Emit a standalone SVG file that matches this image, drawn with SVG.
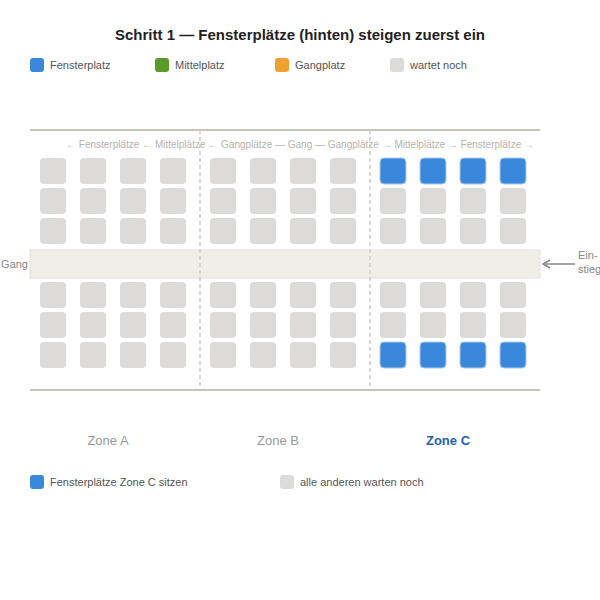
<svg xmlns="http://www.w3.org/2000/svg" width="600" height="600" viewBox="0 0 600 600">
<style>
text{font-family:"Liberation Sans",Arial,sans-serif}
.title{font-size:15px;font-weight:bold;fill:#222}
.leg{font-size:11px;fill:#555}
.hdr{font-size:10px;fill:#b8b4ac}
.side{font-size:11px;fill:#888}
.zone{font-size:13px;fill:#999}
.zoneon{font-size:13px;fill:#1e62b4;font-weight:bold}
.s{fill:#dcdbd9}
.w{fill:#3a88dc;stroke:#a9c9ee;stroke-width:1}
</style>
<defs>
<marker id="ah" markerWidth="10" markerHeight="10" refX="8" refY="5" orient="auto" markerUnits="userSpaceOnUse">
<path d="M1,1 L8,5 L1,9" fill="none" stroke="#888" stroke-width="1.5"/>
</marker>
</defs>
<rect width="600" height="600" fill="#fff"/>
<text class="title" x="300" y="40" text-anchor="middle">Schritt 1 — Fensterplätze (hinten) steigen zuerst ein</text>
<g id="legend">
<rect x="30" y="58" width="14" height="14" rx="3" fill="#3a88dc"/><text class="leg" x="50" y="69">Fensterplatz</text>
<rect x="155" y="58" width="14" height="14" rx="3" fill="#5a9a28"/><text class="leg" x="175" y="69">Mittelplatz</text>
<rect x="275" y="58" width="14" height="14" rx="3" fill="#f0a030"/><text class="leg" x="295" y="69">Gangplatz</text>
<rect x="390" y="58" width="14" height="14" rx="3" fill="#dcdbd9"/><text class="leg" x="410" y="69">wartet noch</text>
</g>
<g id="cabin">
<line x1="30" y1="130" x2="540" y2="130" stroke="#c8c4bc" stroke-width="2"/>
<line x1="30" y1="390" x2="540" y2="390" stroke="#c8c4bc" stroke-width="2"/>
<rect x="30" y="250" width="510" height="28" fill="#f1eee8" stroke="#e6e2da" stroke-width="1"/>
<text class="hdr" x="300" y="148" text-anchor="middle">← Fensterplätze ← Mittelplätze ← Gangplätze — Gang — Gangplätze → Mittelplätze → Fensterplätze →</text>
<text class="side" x="28" y="268" text-anchor="end">Gang</text>
<text class="side" x="578" y="259">Ein-</text>
<text class="side" x="578" y="273">stieg</text>
</g>
<g id="connectors">
<line x1="200" y1="130" x2="200" y2="390" stroke="#ccc" stroke-width="1.5" stroke-dasharray="4,3"/>
<line x1="370" y1="130" x2="370" y2="390" stroke="#ccc" stroke-width="1.5" stroke-dasharray="4,3"/>
<line x1="575" y1="264" x2="543" y2="264" stroke="#888" stroke-width="1.5" marker-end="url(#ah)"/>
</g>
<g id="zoneA">
<rect class="s" x="40" y="158" width="26" height="26" rx="4"/><rect class="s" x="80" y="158" width="26" height="26" rx="4"/><rect class="s" x="120" y="158" width="26" height="26" rx="4"/><rect class="s" x="160" y="158" width="26" height="26" rx="4"/>
<rect class="s" x="40" y="188" width="26" height="26" rx="4"/><rect class="s" x="80" y="188" width="26" height="26" rx="4"/><rect class="s" x="120" y="188" width="26" height="26" rx="4"/><rect class="s" x="160" y="188" width="26" height="26" rx="4"/>
<rect class="s" x="40" y="218" width="26" height="26" rx="4"/><rect class="s" x="80" y="218" width="26" height="26" rx="4"/><rect class="s" x="120" y="218" width="26" height="26" rx="4"/><rect class="s" x="160" y="218" width="26" height="26" rx="4"/>
<rect class="s" x="40" y="282" width="26" height="26" rx="4"/><rect class="s" x="80" y="282" width="26" height="26" rx="4"/><rect class="s" x="120" y="282" width="26" height="26" rx="4"/><rect class="s" x="160" y="282" width="26" height="26" rx="4"/>
<rect class="s" x="40" y="312" width="26" height="26" rx="4"/><rect class="s" x="80" y="312" width="26" height="26" rx="4"/><rect class="s" x="120" y="312" width="26" height="26" rx="4"/><rect class="s" x="160" y="312" width="26" height="26" rx="4"/>
<rect class="s" x="40" y="342" width="26" height="26" rx="4"/><rect class="s" x="80" y="342" width="26" height="26" rx="4"/><rect class="s" x="120" y="342" width="26" height="26" rx="4"/><rect class="s" x="160" y="342" width="26" height="26" rx="4"/>
<text class="zone" x="108" y="445" text-anchor="middle">Zone A</text>
</g>
<g id="zoneB">
<rect class="s" x="210" y="158" width="26" height="26" rx="4"/><rect class="s" x="250" y="158" width="26" height="26" rx="4"/><rect class="s" x="290" y="158" width="26" height="26" rx="4"/><rect class="s" x="330" y="158" width="26" height="26" rx="4"/>
<rect class="s" x="210" y="188" width="26" height="26" rx="4"/><rect class="s" x="250" y="188" width="26" height="26" rx="4"/><rect class="s" x="290" y="188" width="26" height="26" rx="4"/><rect class="s" x="330" y="188" width="26" height="26" rx="4"/>
<rect class="s" x="210" y="218" width="26" height="26" rx="4"/><rect class="s" x="250" y="218" width="26" height="26" rx="4"/><rect class="s" x="290" y="218" width="26" height="26" rx="4"/><rect class="s" x="330" y="218" width="26" height="26" rx="4"/>
<rect class="s" x="210" y="282" width="26" height="26" rx="4"/><rect class="s" x="250" y="282" width="26" height="26" rx="4"/><rect class="s" x="290" y="282" width="26" height="26" rx="4"/><rect class="s" x="330" y="282" width="26" height="26" rx="4"/>
<rect class="s" x="210" y="312" width="26" height="26" rx="4"/><rect class="s" x="250" y="312" width="26" height="26" rx="4"/><rect class="s" x="290" y="312" width="26" height="26" rx="4"/><rect class="s" x="330" y="312" width="26" height="26" rx="4"/>
<rect class="s" x="210" y="342" width="26" height="26" rx="4"/><rect class="s" x="250" y="342" width="26" height="26" rx="4"/><rect class="s" x="290" y="342" width="26" height="26" rx="4"/><rect class="s" x="330" y="342" width="26" height="26" rx="4"/>
<text class="zone" x="278" y="445" text-anchor="middle">Zone B</text>
</g>
<g id="zoneC">
<rect class="w" x="380" y="158" width="26" height="26" rx="4"/><rect class="w" x="420" y="158" width="26" height="26" rx="4"/><rect class="w" x="460" y="158" width="26" height="26" rx="4"/><rect class="w" x="500" y="158" width="26" height="26" rx="4"/>
<rect class="s" x="380" y="188" width="26" height="26" rx="4"/><rect class="s" x="420" y="188" width="26" height="26" rx="4"/><rect class="s" x="460" y="188" width="26" height="26" rx="4"/><rect class="s" x="500" y="188" width="26" height="26" rx="4"/>
<rect class="s" x="380" y="218" width="26" height="26" rx="4"/><rect class="s" x="420" y="218" width="26" height="26" rx="4"/><rect class="s" x="460" y="218" width="26" height="26" rx="4"/><rect class="s" x="500" y="218" width="26" height="26" rx="4"/>
<rect class="s" x="380" y="282" width="26" height="26" rx="4"/><rect class="s" x="420" y="282" width="26" height="26" rx="4"/><rect class="s" x="460" y="282" width="26" height="26" rx="4"/><rect class="s" x="500" y="282" width="26" height="26" rx="4"/>
<rect class="s" x="380" y="312" width="26" height="26" rx="4"/><rect class="s" x="420" y="312" width="26" height="26" rx="4"/><rect class="s" x="460" y="312" width="26" height="26" rx="4"/><rect class="s" x="500" y="312" width="26" height="26" rx="4"/>
<rect class="w" x="380" y="342" width="26" height="26" rx="4"/><rect class="w" x="420" y="342" width="26" height="26" rx="4"/><rect class="w" x="460" y="342" width="26" height="26" rx="4"/><rect class="w" x="500" y="342" width="26" height="26" rx="4"/>
<text class="zoneon" x="448" y="445" text-anchor="middle">Zone C</text>
</g>
<g id="status">
<rect x="30" y="475" width="14" height="14" rx="3" fill="#3a88dc"/><text class="leg" x="50" y="486">Fensterplätze Zone C sitzen</text>
<rect x="280" y="475" width="14" height="14" rx="3" fill="#dcdbd9"/><text class="leg" x="300" y="486">alle anderen warten noch</text>
</g>
</svg>
